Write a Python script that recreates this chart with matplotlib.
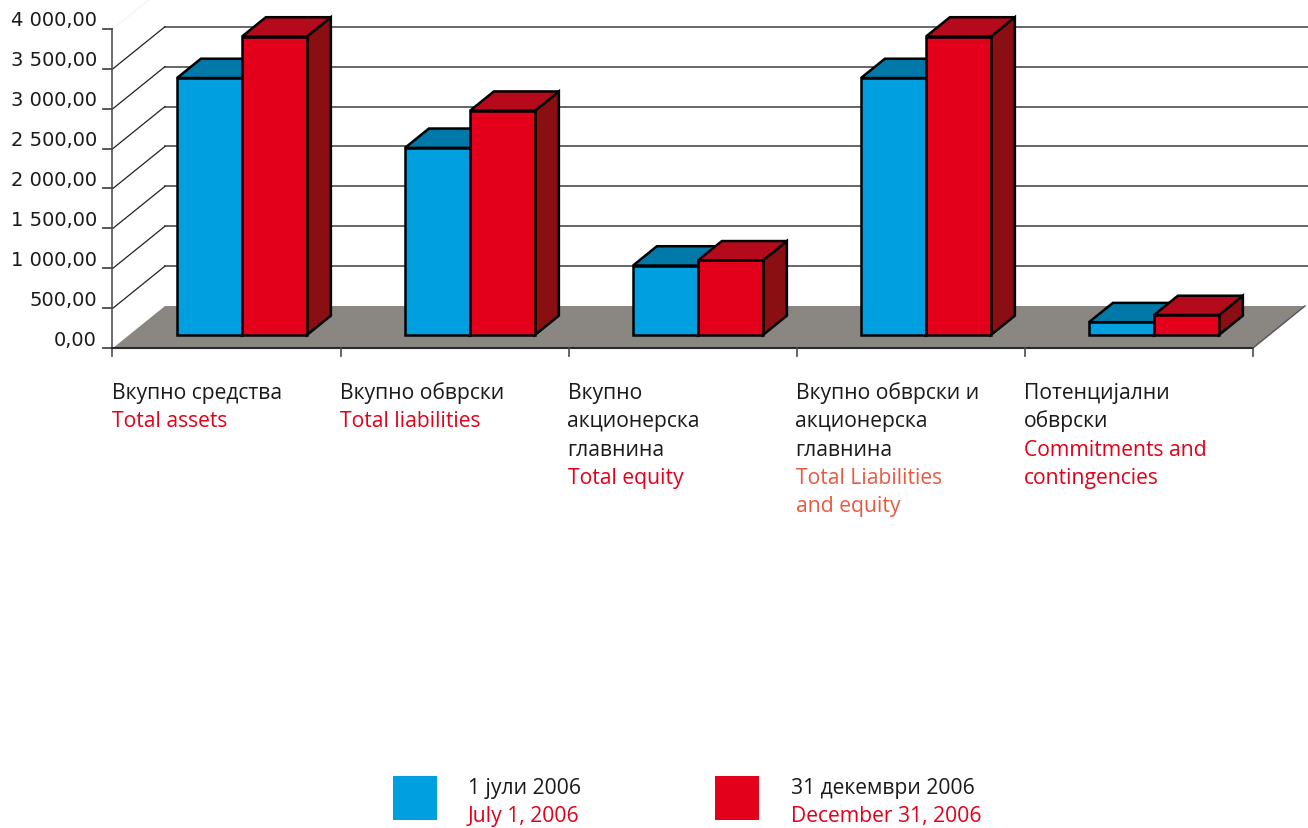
import matplotlib
matplotlib.use("Agg")
import matplotlib.pyplot as plt
from matplotlib.patches import Polygon, Rectangle

# ---- data -------------------------------------------------------------
categories_mk = [
    "Вкупно средства",
    "Вкупно обврски",
    "Вкупно\nакционерска\nглавнина",
    "Вкупно обврски и\nакционерска\nглавнина",
    "Потенцијални\nобврски",
]
categories_en = [
    "Total assets",
    "Total liabilities",
    "Total equity",
    "Total Liabilities\nand equity",
    "Commitments and\ncontingencies",
]
values_jul = [3220, 2345, 870, 3220, 160]
values_dec = [3740, 2810, 935, 3740, 250]
series_mk = ["1 јули 2006", "31 декември 2006"]
series_en = ["July 1, 2006", "December 31, 2006"]
y_ticks = [0, 500, 1000, 1500, 2000, 2500, 3000, 3500, 4000]

# ---- styling ----------------------------------------------------------
BLUE = dict(front="#009FE0", top="#0079A8", side="#00618C")
RED = dict(front="#E2001A", top="#B40A1B", side="#8A0F13")
FLOOR = "#8A8682"
EN_RED = "#E2001A"
EN_ORANGE = "#EA5840"
TXT = "#1A1A1A"
TEXT_FONT = ["Open Sans", "DejaVu Sans"]
TEXT_SIZE = 15.2

# oblique projection of the 3-D box (pixel units)
X0, Y0 = 113.0, 349.0      # front-left corner of the floor
CAT_W = 228.0              # width of one category slot
SCALE = 0.0798             # pixels per value unit
DX, DY = 52.0, -42.0       # full depth offset
D_FRONT, D_BACK = 0.31, 0.77
BAR_LEFT, BAR_W = 0.21, 0.285


def proj(xc, v, d):
    return (X0 + xc * CAT_W + d * DX, Y0 - v * SCALE + d * DY)


def fmt(v):
    s = f"{v:,.2f}"
    return s.replace(",", " ").replace(".", ",")


fig = plt.figure(figsize=(13.08, 8.29), dpi=100)
ax = fig.add_axes([0, 0, 1, 1])
ax.set_xlim(0, 1308)
ax.set_ylim(829, 0)
ax.axis("off")

n = len(categories_mk)

# floor
floor = Polygon([proj(0, 0, 0), proj(n, 0, 0), proj(n, 0, 1), proj(0, 0, 1)],
                closed=True, facecolor=FLOOR, edgecolor="none", zorder=1)
ax.add_patch(floor)
ax.plot([proj(n, 0, 0)[0], proj(n, 0, 1)[0]], [proj(n, 0, 0)[1], proj(n, 0, 1)[1]],
        color="#555555", lw=1.0, zorder=2)

# back wall and side wall gridlines
for v in y_ticks[1:-1]:
    xb, yb = proj(0, v, 1)
    ax.plot([xb, 1308], [yb, yb], color="#5A5A5A", lw=1.3, zorder=1)
    xf, yf = proj(0, v, 0)
    ax.plot([xf, xb], [yf, yb], color="#222222", lw=0.9, zorder=1)
xf, yf = proj(0, y_ticks[-1], 0)
xb, yb = proj(0, y_ticks[-1], 1)
ax.plot([xf, xb], [yf, yb], color="#F3F3F3", lw=0.8, zorder=1)

# value axis
ax.plot([X0 - 1, X0 - 1], [proj(0, y_ticks[-1], 0)[1], Y0 + 8], color="#6A6A6A", lw=1.4, zorder=2)
for v in y_ticks:
    _, y = proj(0, v, 0)
    ax.plot([X0 - 10, X0 - 1], [y, y], color="#4A4A4A", lw=1.3, zorder=2)
    ax.text(97, y - 9, fmt(v), ha="right", va="center", fontsize=14.0,
            family="DejaVu Sans", color=TXT)

# category axis
ax.plot([X0 - 1, proj(n, 0, 0)[0]], [Y0, Y0], color="#2A2A2A", lw=1.5, zorder=2)
for k in range(1, n + 1):
    x, _ = proj(k, 0, 0)
    ax.plot([x, x], [Y0, Y0 + 8], color="#4A4A4A", lw=1.2, zorder=2)


# bars
def draw_bar(xl, v, colors):
    xr = xl + BAR_W
    side = [proj(xr, 0, D_FRONT), proj(xr, v, D_FRONT), proj(xr, v, D_BACK), proj(xr, 0, D_BACK)]
    top = [proj(xl, v, D_FRONT), proj(xr, v, D_FRONT), proj(xr, v, D_BACK), proj(xl, v, D_BACK)]
    front = [proj(xl, 0, D_FRONT), proj(xr, 0, D_FRONT), proj(xr, v, D_FRONT), proj(xl, v, D_FRONT)]
    for pts, key in ((side, "side"), (top, "top"), (front, "front")):
        ax.add_patch(Polygon(pts, closed=True, facecolor=colors[key], edgecolor="black",
                             lw=1.8, joinstyle="miter", zorder=3))


for i in range(n):
    draw_bar(i + BAR_LEFT, values_jul[i], BLUE)
    draw_bar(i + BAR_LEFT + BAR_W, values_dec[i], RED)

# category labels
LINE = 28.3
for i in range(n):
    x = X0 + i * CAT_W - 1.5
    y = 399
    for line in categories_mk[i].split("\n"):
        ax.text(x, y, line, ha="left", va="baseline", fontsize=TEXT_SIZE, family=TEXT_FONT, color=TXT)
        y += LINE
    col = EN_ORANGE if i == 3 else EN_RED
    for line in categories_en[i].split("\n"):
        ax.text(x, y, line, ha="left", va="baseline", fontsize=TEXT_SIZE, family=TEXT_FONT, color=col)
        y += LINE

# legend
legend_x = [393, 715]
legend_text_x = [468, 791]
for j, colors in enumerate((BLUE, RED)):
    ax.add_patch(Rectangle((legend_x[j], 777), 44, 44, facecolor=colors["front"],
                           edgecolor="none", zorder=3))
    ax.text(legend_text_x[j], 794, series_mk[j], ha="left", va="baseline", fontsize=TEXT_SIZE,
            family=TEXT_FONT, color=TXT)
    ax.text(legend_text_x[j], 822, series_en[j], ha="left", va="baseline", fontsize=TEXT_SIZE,
            family=TEXT_FONT, color=EN_RED)

fig.savefig("out.png", dpi=100)
